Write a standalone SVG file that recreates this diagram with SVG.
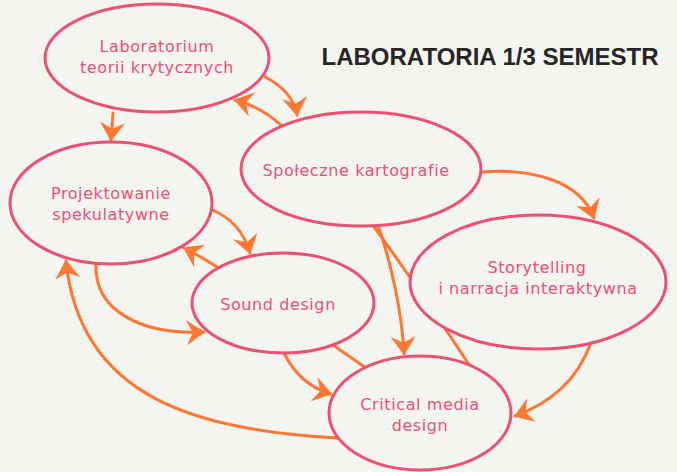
<svg xmlns="http://www.w3.org/2000/svg" width="677" height="472" viewBox="0 0 677 472">
<style>
.bg{fill:#f4f4f0}
.node ellipse{fill:#f4f4f0;stroke:#ec5073;stroke-width:3}
.node text{font-family:"DejaVu Sans","Noto Sans",sans-serif;font-size:16px;letter-spacing:0.6px;fill:#ec5073;text-anchor:middle}
.edge{fill:none;stroke:#ff7733;stroke-width:3;stroke-linecap:round}
.arr{marker-end:url(#ah)}
.title{font-family:"Liberation Sans",Arial,sans-serif;font-weight:bold;font-size:24px;fill:#262626;text-anchor:middle}
</style>
<defs>
<marker id="ah" markerUnits="userSpaceOnUse" markerWidth="30" markerHeight="30" refX="0" refY="0" viewBox="-16 -12 18 24" orient="auto">
<path d="M1,0 L-14,-10 L-9,0 L-14,10 Z" fill="#ff7733"/>
</marker>
</defs>
<rect class="bg" x="0" y="0" width="677" height="472"/>
<text class="title" x="490" y="65">LABORATORIA 1/3 SEMESTR</text>
<g id="connectors">
<path class="edge arr" d="M113,113 Q112,128 111,140"/>
<path class="edge arr" d="M265,77 C282,85 295,100 297,115"/>
<path class="edge arr" d="M282,126 Q262,107 235,100"/>
<path class="edge arr" d="M481,172 C530,168 580,180 594,218"/>
<path class="edge arr" d="M213,210 C235,220 245,235 250,253"/>
<path class="edge arr" d="M217,267 Q200,256 184,248"/>
<path class="edge arr" d="M96,264 C94,310 140,335 204,332"/>
<path class="edge arr" d="M338,438 C200,430 80,400 66,261"/>
<path class="edge arr" d="M284,353 C295,375 310,388 331,394"/>
<path class="edge arr" d="M378,225 C390,260 402,310 404,354"/>
<path class="edge arr" d="M590,345 C575,385 545,405 515,416"/>
<path class="edge" d="M372,224 Q420,290 470,366"/>
<path class="edge" d="M300,322 L366,368"/>
</g>
<g id="n-laboratorium" class="node">
<ellipse cx="157" cy="58" rx="112" ry="54"/>
<text x="157" y="52">Laboratorium</text>
<text x="157" y="73">teorii krytycznych</text>
</g>
<g id="n-projektowanie" class="node">
<ellipse cx="111" cy="203" rx="101" ry="61"/>
<text x="111" y="199">Projektowanie</text>
<text x="111" y="220">spekulatywne</text>
</g>
<g id="n-spoleczne" class="node">
<ellipse cx="361" cy="169" rx="120" ry="57"/>
<text x="356" y="176">Społeczne kartografie</text>
</g>
<g id="n-storytelling" class="node">
<ellipse cx="538" cy="282" rx="128" ry="67"/>
<text x="537" y="273">Storytelling</text>
<text x="538" y="294">i narracja interaktywna</text>
</g>
<g id="n-sound" class="node">
<ellipse cx="283" cy="303" rx="91" ry="50"/>
<text x="278" y="310">Sound design</text>
</g>
<g id="n-critical" class="node">
<ellipse cx="420" cy="413" rx="91" ry="57"/>
<text x="420" y="410">Critical media</text>
<text x="420" y="431">design</text>
</g>
</svg>
